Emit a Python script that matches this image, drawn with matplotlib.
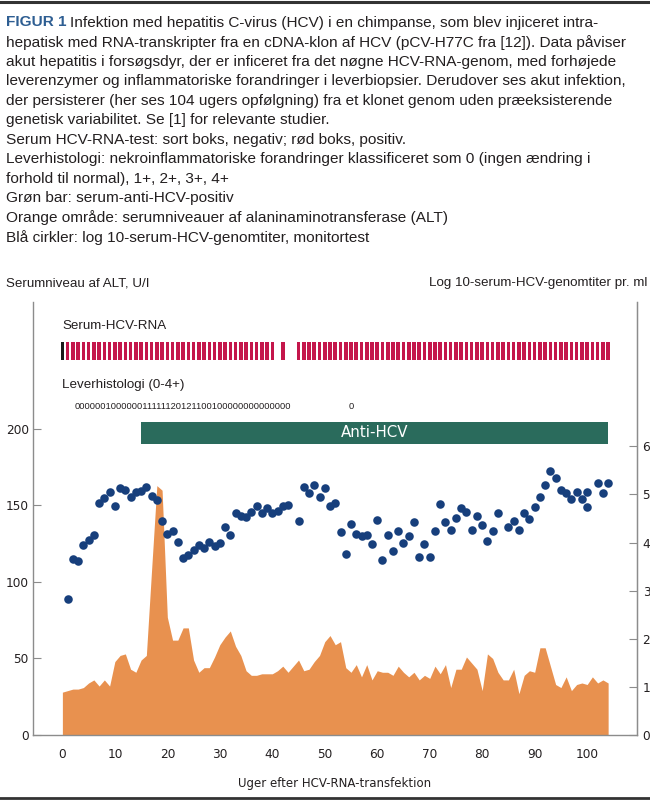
import matplotlib
matplotlib.use("Agg")
import matplotlib.pyplot as plt
from matplotlib.lines import Line2D
from matplotlib import font_manager

plt.rcParams['font.family'] = ['Liberation Sans', 'DejaVu Sans']

# ---------------- data ----------------
alt_weeks = list(range(0, 105))
alt_values = [28, 29, 30, 30, 31, 34, 36, 32, 36, 32,
              48, 52, 53, 43, 41, 49, 52, 108, 163, 160,
              77, 62, 62, 70, 70, 49, 41, 44, 44, 51,
              59, 64, 68, 58, 52, 42, 39, 39, 40, 40,
              40, 42, 45, 41, 45, 49, 42, 43, 48, 52,
              61, 65, 59, 61, 44, 41, 46, 38, 46, 36,
              42, 41, 41, 39, 45, 41, 38, 41, 36, 39,
              37, 45, 40, 46, 31, 43, 43, 51, 47, 43,
              29, 53, 50, 41, 36, 36, 43, 27, 39, 42,
              41, 57, 57, 45, 33, 31, 38, 29, 33, 34,
              33, 38, 34, 36, 34]

titer_weeks = [1, 2, 3, 4, 5, 6, 7, 8, 9, 10, 11, 12, 13, 14, 15, 16, 17, 18, 19, 20,
               21, 22, 23, 24, 25, 26, 27, 28, 29, 30, 31, 32, 33, 34, 35, 36, 37, 38, 39, 40,
               41, 42, 43, 45, 46, 47, 48, 49, 50, 51, 52, 53, 54, 55, 56, 57, 58, 59, 60,
               61, 62, 63, 64, 65, 66, 67, 68, 69, 70, 71, 72, 73, 74, 75, 76, 77, 78, 79, 80,
               81, 82, 83, 85, 86, 87, 88, 89, 90, 91, 92, 93, 94, 95, 96, 97, 98, 99, 100,
               100, 102, 103, 104]
titer_values = [2.82, 3.65, 3.61, 3.94, 4.06, 4.15, 4.83, 4.93, 5.05, 4.77,
                5.13, 5.10, 4.94, 5.05, 5.08, 5.15, 4.96, 4.89, 4.44, 4.17,
                4.25, 4.02, 3.67, 3.75, 3.84, 3.94, 3.89, 4.01, 3.93, 3.99,
                4.32, 4.15, 4.61, 4.56, 4.54, 4.63, 4.77, 4.61, 4.72, 4.61,
                4.65, 4.77, 4.78, 4.45, 5.15, 5.04, 5.19, 4.94, 5.14, 4.77,
                4.83, 4.22, 3.77, 4.39, 4.17, 4.13, 4.16, 3.98, 4.47,
                3.64, 4.16, 3.82, 4.25, 4.00, 4.14, 4.42, 3.69, 3.96, 3.71,
                4.24, 4.81, 4.43, 4.27, 4.52, 4.72, 4.63, 4.27, 4.55, 4.36,
                4.04, 4.25, 4.62, 4.33, 4.45, 4.27, 4.62, 4.50, 4.73, 4.94,
                5.19, 5.49, 5.34, 5.10, 5.03, 4.90, 5.05, 4.90, 5.06,
                4.74, 5.23, 5.03, 5.23]

rna_weeks = list(range(0, 41)) + [42] + list(range(45, 105))
rna_result = ['neg'] + ['pos'] * 40 + ['pos'] + ['pos'] * 60

anti_hcv_start, anti_hcv_end = 15, 104
histology_scores = "000000100000011111120121100100000000000000"
histology_late = "0"

left_ticks = [0, 50, 100, 150, 200]
right_ticks = [0, 1, 2, 3, 4, 5, 6]
x_ticks = [0, 10, 20, 30, 40, 50, 60, 70, 80, 90, 100]

# ---------------- style ----------------
TXT = '#231f20'
ORANGE = '#e8914f'
BLUE = '#173f7c'
GREEN = '#2a6b5c'
RED = '#c4164b'
GREY = '#8c8c8c'
W, H = 650, 800


def fx(x):
    return x / W


def fy(y):
    return 1 - y / H


fig = plt.figure(figsize=(6.5, 8), dpi=100)

# border lines
fig.add_artist(Line2D([0, 1], [fy(1.5), fy(1.5)], color='#333333', lw=2.2))
fig.add_artist(Line2D([0, 1], [fy(797.5), fy(797.5)], color='#333333', lw=2.0))

# caption
cap_size = 11.1
lines = [
    None,
    "hepatisk med RNA-transkripter fra en cDNA-klon af HCV (pCV-H77C fra [12]). Data påviser",
    "akut hepatitis i forsøgsdyr, der er inficeret fra det nøgne HCV-RNA-genom, med forhøjede",
    "leverenzymer og inflammatoriske forandringer i leverbiopsier. Derudover ses akut infektion,",
    "der persisterer (her ses 104 ugers opfølgning) fra et klonet genom uden præeksisterende",
    "genetisk variabilitet. Se [1] for relevante studier.",
    "Serum HCV-RNA-test: sort boks, negativ; rød boks, positiv.",
    "Leverhistologi: nekroinflammatoriske forandringer klassificeret som 0 (ingen ændring i",
    "forhold til normal), 1+, 2+, 3+, 4+",
    "Grøn bar: serum-anti-HCV-positiv",
    "Orange område: serumniveauer af alaninaminotransferase (ALT)",
    "Blå cirkler: log 10-serum-HCV-genomtiter, monitortest",
]
y0, dy = 22.5, 19.55
t_bold = fig.text(fx(6), fy(y0), "FIGUR 1", fontsize=cap_size, fontweight='bold',
                  color='#2e5e92', va='center', ha='left')
fig.canvas.draw()
r = fig.canvas.get_renderer()
bb = t_bold.get_window_extent(r)
fig.text(bb.x1 / W + fx(4), fy(y0),
         "Infektion med hepatitis C-virus (HCV) i en chimpanse, som blev injiceret intra-",
         fontsize=cap_size, color=TXT, va='center', ha='left')
for i, s in enumerate(lines):
    if s is None:
        continue
    fig.text(fx(6), fy(y0 + i * dy), s, fontsize=cap_size, color=TXT, va='center', ha='left')

# axis titles
fig.text(fx(6), fy(283), "Serumniveau af ALT, U/I", fontsize=9.6, color=TXT, va='center', ha='left')
fig.text(fx(647), fy(283), "Log 10-serum-HCV-genomtiter pr. ml", fontsize=9.6, color=TXT,
         va='center', ha='right')

# ---------------- axes ----------------
ax = fig.add_axes([fx(33), fy(735), fx(637 - 33), (735 - 302) / H])
ax.set_xlim(-5.6, 109.5)
ax.set_ylim(0, 283)

ax.fill_between(alt_weeks, 0, alt_values, color=ORANGE, lw=0, zorder=1)

# RNA boxes
rna_colors = ['#1a1a1a' if r_ == 'neg' else RED for r_ in rna_result]
ax.bar(rna_weeks, [12] * len(rna_weeks), bottom=245, width=0.68, color=rna_colors, lw=0, zorder=2)
ax.text(0, 267, "Serum-HCV-RNA", fontsize=9.6, color=TXT, va='center', ha='left')
ax.text(0, 229, "Leverhistologi (0-4+)", fontsize=9.6, color=TXT, va='center', ha='left')

narrow = None
for f in font_manager.fontManager.ttflist:
    if f.name == 'Liberation Sans Narrow':
        narrow = f.name
        break
if narrow:
    ax.text(2.4, 215, histology_scores, fontsize=8.1, family=narrow, color=TXT, va='center', ha='left')
    ax.text(54.6, 215, histology_late, fontsize=8.1, family=narrow, color=TXT, va='center', ha='left')
else:
    ax.text(2.4, 215, histology_scores, fontsize=6.7, color=TXT, va='center', ha='left')
    ax.text(54.6, 215, histology_late, fontsize=6.7, color=TXT, va='center', ha='left')

# Anti-HCV bar
ax.barh(197.5, anti_hcv_end - anti_hcv_start, left=anti_hcv_start, height=14.5, color=GREEN, lw=0, zorder=2)
ax.text((anti_hcv_start + anti_hcv_end) / 2, 197.5, "Anti-HCV", fontsize=10.8, family='DejaVu Sans',
        color='white', va='center', ha='center', zorder=3)

ax.spines['top'].set_visible(False)
for side in ['left', 'right', 'bottom']:
    ax.spines[side].set_color(GREY)
    ax.spines[side].set_linewidth(1.0)

ax.set_yticks(left_ticks)
ax.set_yticklabels([str(v) for v in left_ticks], family='DejaVu Sans')
ax.set_xticks(x_ticks)
ax.set_xticklabels([str(v) for v in x_ticks], family='DejaVu Sans')
ax.tick_params(axis='y', direction='in', length=6, color=GREY, labelsize=8.7, pad=3, labelcolor=TXT)
ax.tick_params(axis='x', length=0, labelsize=8.7, pad=9, labelcolor=TXT)
ax.set_xlabel("Uger efter HCV-RNA-transfektion", fontsize=8.5, family='DejaVu Sans', color=TXT, labelpad=12)

ax2 = ax.twinx()
ax2.set_ylim(0, 9)
ax2.scatter(titer_weeks, titer_values, s=38, color=BLUE, lw=0, zorder=4)
for side in ['top', 'left', 'bottom']:
    ax2.spines[side].set_visible(False)
ax2.spines['right'].set_color(GREY)
ax2.set_yticks(right_ticks)
ax2.set_yticklabels([str(v) for v in right_ticks], family='DejaVu Sans')
ax2.tick_params(axis='y', direction='in', length=6, color=GREY, labelsize=8.7, pad=4, labelcolor=TXT)

fig.savefig("out.png", dpi=100)
